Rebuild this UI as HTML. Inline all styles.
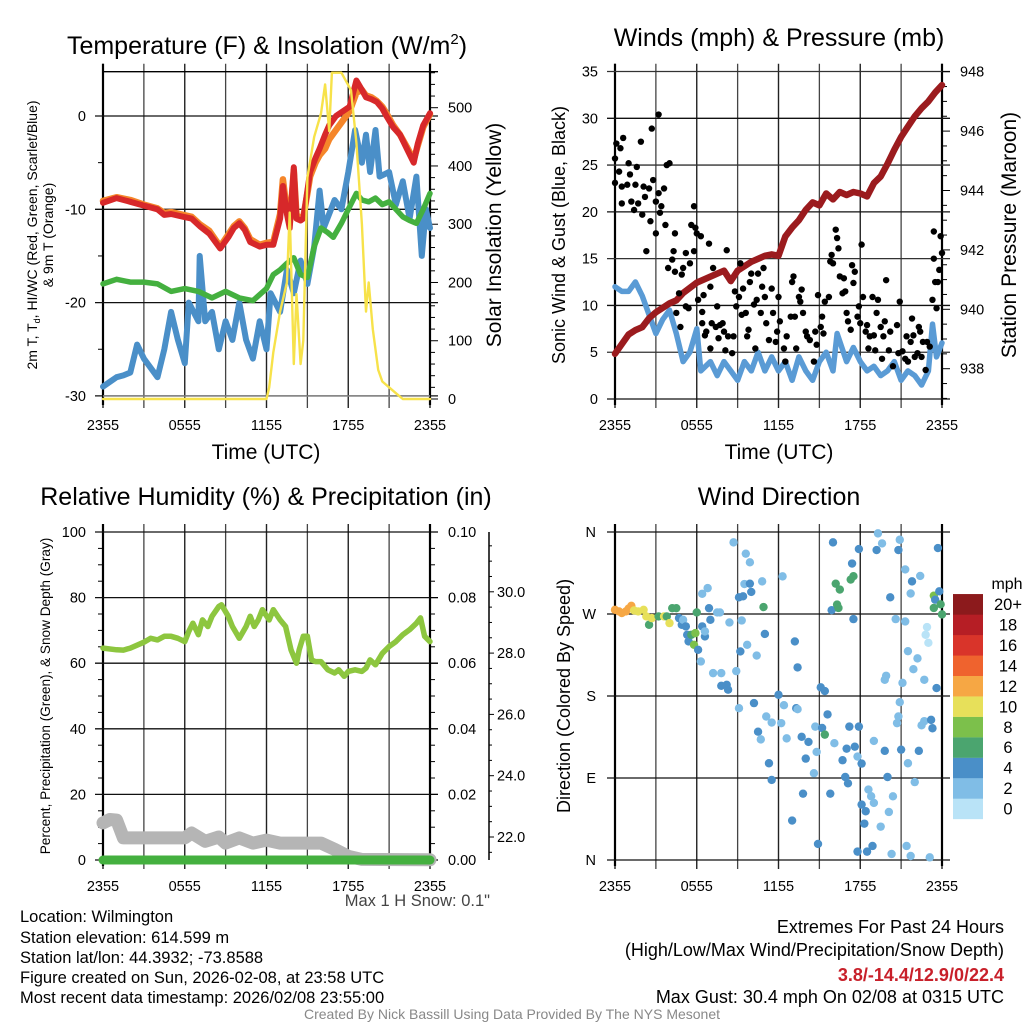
<!DOCTYPE html>
<html><head><meta charset="utf-8"><style>
html,body{margin:0;padding:0;background:#fff}
svg{display:block;font-family:"Liberation Sans",sans-serif}
</style></head><body>
<svg id="fig" width="1024" height="1024" viewBox="0 0 1024 1024" xmlns="http://www.w3.org/2000/svg">
<rect width="1024" height="1024" fill="#fff"/>
<text x="267" y="54" font-size="25" text-anchor="middle">Temperature (F) &amp; Insolation (W/m<tspan font-size="15" dy="-10">2</tspan><tspan dy="10">)</tspan></text>
<text x="779" y="46" font-size="25" text-anchor="middle">Winds (mph) &amp; Pressure (mb)</text>
<text x="266" y="505" font-size="25" text-anchor="middle">Relative Humidity (%) &amp; Precipitation (in)</text>
<text x="779" y="505" font-size="25" text-anchor="middle">Wind Direction</text>
<text x="266" y="459" font-size="21" text-anchor="middle">Time (UTC)</text>
<text x="779" y="459" font-size="21" text-anchor="middle">Time (UTC)</text>
<text transform="translate(37,235) rotate(-90)" font-size="14" text-anchor="middle">2m T, T<tspan font-size="9" dy="3">d</tspan><tspan dy="-3">, HI/WC (Red, Green, Scarlet/Blue)</tspan></text>
<text transform="translate(53,235) rotate(-90)" font-size="14" text-anchor="middle">&amp; 9m T (Orange)</text>
<text transform="translate(501,235) rotate(-90)" font-size="21" text-anchor="middle">Solar Insolation (Yellow)</text>
<text transform="translate(565,235) rotate(-90)" font-size="18" text-anchor="middle">Sonic Wind &amp; Gust (Blue, Black)</text>
<text transform="translate(1016,235) rotate(-90)" font-size="21" text-anchor="middle">Station Pressure (Maroon)</text>
<text transform="translate(50,696) rotate(-90)" font-size="13.6" text-anchor="middle">Percent, Precipitation (Green), &amp; Snow Depth (Gray)</text>
<text transform="translate(570,696) rotate(-90)" font-size="18" text-anchor="middle">Direction (Colored By Speed)</text>
<text x="490" y="906" font-size="16.5" fill="#444" text-anchor="end">Max 1 H Snow: 0.1"</text>
<g font-size="16.5">
<text x="20" y="922">Location: Wilmington</text>
<text x="20" y="943">Station elevation: 614.599 m</text>
<text x="20" y="963">Station lat/lon: 44.3932; -73.8588</text>
<text x="20" y="983">Figure created on Sun, 2026-02-08, at 23:58 UTC</text>
<text x="20" y="1003">Most recent data timestamp: 2026/02/08 23:55:00</text>
</g>
<g font-size="18" text-anchor="end">
<text x="1004" y="933">Extremes For Past 24 Hours</text>
<text x="1004" y="956">(High/Low/Max Wind/Precipitation/Snow Depth)</text>
<text x="1004" y="981" fill="#c8202a" font-weight="bold">3.8/-14.4/12.9/0/22.4</text>
<text x="1004" y="1003">Max Gust: 30.4 mph On 02/08 at 0315 UTC</text>
</g>
<text x="512" y="1019" font-size="14" fill="#888" text-anchor="middle">Created By Nick Bassill Using Data Provided By The NYS Mesonet</text>
<g id="plots"></g>
</svg>
<script>
// ---------- DATA ----------
const xTickLabels = ["2355","0555","1155","1755","2355"];
const tempHours = [0,1,2,3,4,4.5,5,5.9,6.5,7.1,7.8,8.6,9.2,9.6,10,10.4,10.8,11.5,12,12.5,13,13.2,13.5,13.7,14,14.2,14.5,14.7,15,15.2,15.6,15.9,16.3,16.6,17.1,17.6,18.1,18.6,19,19.3,19.7,20.1,20.5,20.8,21.3,21.8,22.3,22.8,23.1,23.5,24];
const tempRed = [-9.3,-8.8,-9.2,-9.6,-10,-10.6,-10.5,-10.8,-11,-11.8,-12.6,-14.2,-13,-12,-11.5,-12.2,-13.5,-14,-13.8,-13.8,-11,-7.5,-10.5,-12,-5.5,-11,-11.2,-11,-8,-6,-4.5,-3.5,-2,-1,0,0.5,1,3.8,2.8,2,1.8,1.5,0.8,0,-1.2,-2,-3.5,-5,-3,-1,0.3];
const tempOrange = [-9.1,-8.7,-9.0,-9.5,-9.9,-10.4,-10.3,-10.6,-10.8,-11.6,-12.3,-14.0,-12.7,-11.8,-11.3,-12.0,-13.2,-13.8,-13.6,-13.5,-10.5,-6.8,-10.2,-11.6,-5.8,-10.6,-11,-10.8,-8.3,-6.5,-5,-4.2,-3.5,-2.5,-1.5,-0.5,0.5,2.5,2.8,2.2,2,1.6,1,0.3,-1,-2,-3.3,-4.7,-3.2,-1.2,0.2];
const dewHours = [0,1,2,3,4,5,6,7,8,9,10,11,12,12.5,13,13.5,14,14.5,15,15.5,16,16.5,16.9,17.5,18,18.6,19,19.5,20,20.5,21,21.5,22,22.5,23,23.5,24];
const dewGreen = [-18,-17.5,-17.8,-17.8,-18,-18.8,-18.5,-18.8,-19.5,-18.8,-19.5,-19.8,-18.5,-17,-16.5,-15.8,-15.2,-17,-17.3,-14,-12,-12.5,-13,-11.5,-10,-8.3,-9,-9.2,-8.8,-9.5,-9.2,-10,-10.8,-11.2,-11.5,-10,-8.3];
const wcHours = [0,0.5,1,1.5,2,2.5,3,3.5,4,4.5,5,5.5,6,6.3,7,7.1,7.5,8,8.5,9,9.5,10,10.5,11,11.5,12,12.3,13,13.5,14,14.5,15,15.5,15.9,16.2,17,17.5,18,18.5,19,19.3,19.6,20,20.3,21,21.5,22,22.5,23,23.4,23.7,24];
const wcBlue = [-29,-28.5,-28,-27.8,-27.5,-24.5,-26,-27,-28,-25,-21,-24,-26.5,-20,-22,-15,-22,-21,-25,-22,-24,-20,-24,-26,-22,-25,-19,-21,-16.5,-19,-15.5,-18,-14,-8,-12,-9,-10,-6,-1.5,-5,-2,-6,-1.5,-6.5,-6,-9.5,-7,-11,-6.5,-15,-10,-12];
const solarHours = [0,12,12.2,12.5,13,13.5,13.7,14,14.2,14.5,14.7,15,15.5,16,16.3,16.6,16.8,17.5,18.2,18.6,19,19.3,19.5,19.8,20.2,20.5,21.5,22,24];
const solarYellow = [0,0,20,80,150,200,320,60,180,60,100,380,450,490,540,460,560,560,530,440,300,150,200,120,50,30,10,0,0];
const windHours = [0,0.5,1,1.5,2,2.5,3,3.5,4,4.5,5,5.5,6,6.3,7,7.5,8,8.5,9,9.5,10,10.5,11,11.5,12,12.5,13,13.5,14,14.5,15,15.5,16,16.3,17,17.5,18,18.5,19,19.5,20,20.5,21,21.5,22,22.5,23,23.3,23.6,24];
const windSonic = [12,11.5,11.5,12.5,11,9,7,8.5,9.5,7,4,5,7.5,3,4,2.5,4,3,2,4,3,5,3,4.5,3,4,2,4.5,3,2,4,5,3,7,4,5.5,4,3,3.5,2.5,3,4,2,3,2.5,1.5,3,8,4.5,6];
const gustHours = [0,0,0.1,0.3,0.4,0.5,0.6,0.5,0.9,1,1.1,1.2,1.4,1.5,1.6,1.7,1.9,2,2.1,2.2,2.3,2.5,2.6,2.7,2.8,3,3,3.2,3.2,3.3,3.4,3.6,3.7,3.8,3.9,4,4.2,4.3,4.4,4.4,4.5,4.7,4.8,4.9,5,5.2,5.2,5.4,5.5,5.6,5.8,5.8,5.9,6,6.1,6.3,6.4,6.4,6.5,6.6,6.7,6.9,7,7,7.1,7.2,7.4,7.5,7.6,7.7,7.9,8,8.1,8.2,8.3,8.6,8.7,8.8,8.9,9.1,9.2,9.3,9.4,9.6,9.7,9.8,9.9,10,10.2,10.3,10.4,10.5,10.7,10.8,10.9,11,11.1,11.3,11.5,11.6,11.8,11.9,12,12.1,12.4,12.5,12.6,12.9,13,13.1,13.2,13.3,13.5,13.6,13.7,13.8,14,14.1,14.3,14.6,14.7,14.8,14.9,15.1,15.2,15.3,15.4,15.7,15.8,15.9,16,16.2,16.3,16.4,16.5,16.7,16.8,16.9,17,17.1,17.3,17.4,17.5,17.6,17.8,17.9,18,18.1,18.2,18.4,18.5,18.6,18.7,18.9,19,19.1,19.2,19.3,19.5,19.6,19.7,19.8,19.9,20.1,20.2,20.4,20.7,20.8,20.9,21.1,21.3,21.4,21.5,21.7,21.8,21.9,22,22.2,22.3,22.4,22.5,22.6,22.8,22.9,23.1,23.3,23.4,23.4,23.5,23.6,23.7,23.8,23.9,24];
const gustVals = [23.1,25.7,27.3,24.3,26.8,22.7,27.9,20.9,22.9,25.2,24,21.1,20.2,22.9,24.8,20.9,27.5,19.7,22.7,21.6,15.8,22.5,19,28.9,23.4,21.1,17.7,30.4,22,19.9,20.6,22.5,18.6,25,14,25.2,14.9,15.8,13.6,17.7,9.2,11.3,7.7,13.3,14,15.6,9.9,9.7,14.5,18.6,15.8,20.6,18.3,17.7,10.6,17.4,8.1,9.3,11.1,6.8,7.2,16.6,5.4,12,8.1,14,7.7,9.9,6.5,7.9,8.1,7.2,5.2,15.9,6.7,4.9,6.7,11.5,9.9,10.9,14.5,9,11.8,9.2,6.7,7.4,12.5,13.4,10.1,5.4,10.6,13.4,9.2,12,14,10.9,8.1,6.3,11.8,9.2,6.1,7.2,10.9,8.3,5.4,4,6.7,8.8,12.5,13.1,8.8,5.4,10.9,10.4,11.7,9.2,7.2,6.7,6.3,4,7.2,5.8,11.1,7.7,8.8,7,10.4,10.9,14.7,15.4,14.5,18.1,17.2,16.1,13.1,11.3,12.9,11.5,9.2,8.3,7.4,14.3,12.4,13.6,8.8,9.9,8.1,16.5,10.9,7.2,7.9,5.4,6.7,10.9,6.8,5.2,9.2,10.6,7.7,4.3,6.7,8.3,12.7,5.2,7.2,3.5,7.9,4.9,10.4,5.1,4.3,6.7,4,6.1,8.6,6.8,4.5,4.9,7.7,7.2,4.5,6.1,3.1,6.1,5.6,10.6,15,17.9,12.5,9.7,12.5,13.8,17.4,15.6];
const presHours = [0,1,1.5,2,2.5,3,4,4.5,5,6,7,8,8.5,9,10,11,11.5,12,12.5,13,13.5,14,14.5,15,15.5,16,16.5,17,17.5,18,18.5,19,19.5,20,20.5,21,21.5,22,22.5,23,23.5,24];
const presVals = [938.5,939.15,939.3,939.4,939.7,939.9,940.2,940.3,940.55,940.9,941.1,941.3,940.95,941.3,941.6,941.8,941.85,941.8,942.45,942.75,943.0,943.35,943.6,943.5,943.9,943.7,943.95,943.85,943.95,943.9,943.8,944.25,944.47,944.9,945.37,945.8,946.15,946.5,946.77,947.0,947.3,947.55];
const rhHours = [0,1,1.5,2,3,3.5,4,4.5,5,5.5,6,6.3,6.6,7,7.3,7.7,8,8.5,8.7,9.2,9.5,10,10.5,10.8,11.1,11.4,11.7,12.2,12.5,13,13.4,13.8,14.2,14.4,14.7,15,15.3,15.6,16,16.5,17,17.3,17.7,18,18.5,19,19.3,19.6,20,20.5,21,21.5,22,22.5,23,23.3,23.6,24];
const rhVals = [64.6,64.1,64,64.6,66.4,67.6,67.1,68.2,68.2,67.6,66.6,69.7,72.2,68.7,73.2,71.2,74.3,77.3,77.8,74.3,71.2,67.6,71.2,74.3,71.2,73.2,76.3,73.2,76.3,73.2,71.2,64.1,60,64.1,68.2,68.2,61,60.5,60.5,58,57,58,56,57.5,58,57.5,58.5,61,59.5,63,65.1,66.6,68.7,70.2,72.2,73.8,68.2,66.6];
const snowHours = [0,0.5,1,1.5,2,6,6.5,7.5,8.5,9,10,11,12,13,15,16,17,18,19,24];
const snowVals = [22.46,22.57,22.55,21.97,21.97,21.97,22.13,21.86,22.0,21.8,21.97,21.8,21.9,21.8,21.8,21.8,21.6,21.37,21.27,21.26];
const precipHours = [0,24];
const precipVals = [0,0];
const speedColors = ["#b9e3f7","#80bde6","#4a8fc8","#4ba56f","#7cc04b","#e7e05a","#f6a744","#ef632e","#d9342a","#b61e25","#8c1a1c"];
const speedLabels = ["0","2","4","6","8","10","12","14","16","18","20+"];
const dirHours = [
0,0.3,0.5,0.8,1,1.2,1.4,1.7,2.1,2.3,
2.5,2.7,3.2,3.6,3.8,4,4.2,4.5,4.7,4.9,
5,5.2,5.3,5.4,5.6,5.8,5.9,6,6.1,6.3,
6.4,6.6,6.6,6.9,7,6.4,6.8,7.2,7.5,7.7,
7.8,7.8,8.2,8.3,8.4,8.7,8.9,9.1,9.1,9.2,
9.3,9.4,9.5,9.6,9.9,9.7,9.9,10,10.2,10.4,
10.5,10.7,10.8,10.9,11,11.1,11.5,11.3,11.5,12,
12.2,12.3,12.4,12.6,13,13.2,13.4,13.3,13.4,13.7,
13.8,14,14.2,14.6,14.7,14.8,14.9,15.1,15.2,15.4,
15.4,15.6,15.8,16,15.9,16.1,16.2,16.3,16.4,16.5,
16.7,16.9,17,17.1,17.2,17.3,17.5,17.4,17.5,17.6,
17.8,17.8,17.9,17.9,18.1,18.1,18.3,18.4,18.5,18.6,
18.8,18.9,19,19,19.2,19.3,19.6,19.5,19.8,19.9,
19.8,20,20.1,20.2,20.3,20.4,20.6,20.7,20.8,20.8,
20.9,20.9,21,21.1,21.3,21.3,21.4,21.5,21.5,21.7,
21.7,21.8,21.9,22,22.2,22.3,22.4,22.5,22.7,22.7,
22.9,22.8,23,23.1,23.2,23.3,23.4,23.5,23.4,23.6,
23.7,23.8,23.9,24];
const dirDeg = [
274.6,272.8,271,272.8,276,279,273.9,272.8,274.6,267.3,
258.2,265.5,267.3,267.3,267.3,260,276.4,276.4,265.5,258.2,
263.6,256.4,247.2,239.9,247.2,236.2,249,271.7,230.7,217.9,
256.4,245.4,250.9,276.4,263.6,292.2,298.4,205.1,271.7,271.7,
205.1,191.2,192.3,186.9,260.7,348.6,207.3,166.6,288.3,228.9,
262.9,289.4,302.9,336.2,326.7,236.2,303.3,294.2,172.2,224.4,
140.8,132.4,305.8,277.6,248.1,157.5,150.9,106.2,87.9,181.3,
150.2,311.3,169.9,133.5,43.3,239.9,211.4,166.6,165.5,135.2,
72.8,111.3,129.6,95.2,146.4,118.6,17.6,189.5,144.9,137.6,
185.4,159.8,72.8,348.6,274.2,128.2,303.3,280.3,276.6,296.8,
109.5,91.1,122.2,84.2,146.4,307.8,311.5,325.4,264.4,124.4,
113.5,9.2,146.4,341.3,105.8,60.8,39.9,53.5,9.2,77.3,
70,15.4,62.6,130.7,340.2,358.5,347.5,36.6,197.8,202.2,
119.8,91.1,52.7,288.3,6.6,69.9,264.4,150.2,340.2,157.5,
173.2,351.5,121.1,194.4,261.8,318.9,15.4,106.2,229.2,4.4,
292.5,305.8,209.4,85.5,221.3,119.8,311.8,147.8,197.8,152.4,
255.6,247.2,238.4,2.9,153.8,144.6,290.1,285.7,276.6,188.7,
342.4,294.9,280.6,269.6];
const dirBin = [
6,6,6,6,6,6,5,5,5,5,
3,5,3,5,3,5,3,3,2,2,
1,2,2,2,3,4,4,3,2,1,
2,2,1,2,2,1,1,1,1,1,
1,2,2,2,1,1,1,1,2,2,
1,2,1,1,1,1,2,2,2,1,
2,1,1,3,2,1,1,2,2,2,
1,1,1,1,2,2,2,2,1,2,
2,2,2,1,1,1,2,2,2,3,
2,2,2,2,2,1,3,3,3,3,
2,2,2,2,2,3,3,2,2,2,
1,2,2,2,2,2,2,2,2,1,
1,2,1,1,2,1,1,1,1,1,
2,2,1,2,1,1,1,1,2,1,
1,1,2,1,1,1,1,1,1,1,
1,2,1,1,1,2,1,1,1,1,
0,0,0,1,2,2,4,2,3,2,
2,2,3,3];

// ---------- DRAW ----------
const NS = "http://www.w3.org/2000/svg";
const root = document.getElementById("plots");
const FS = 14.5;
function mk(tag, attrs, parent){ const e=document.createElementNS(NS,tag); for(const k in attrs) e.setAttribute(k,attrs[k]); (parent||root).appendChild(e); return e; }
function txt(x,y,s,size,anchor){
  const t=mk("text",{x:x,y:y,"font-size":size,"text-anchor":anchor});
  t.textContent=s;
  return t;
}
function pathFrom(hs,vs,xf,yf){ let d=""; const n=Math.min(hs.length,vs.length); for(let i=0;i<n;i++){ d+=(i?"L":"M")+xf(hs[i]).toFixed(1)+","+yf(vs[i]).toFixed(1);} return d; }
function series(hs,vs,xf,yf,color,w,name){
  const p=mk("path",{d:pathFrom(hs,vs,xf,yf),fill:"none",stroke:color,"stroke-width":w,"stroke-linejoin":"round","stroke-linecap":"round"});
  
  
  return p;
}
function ln(x1,y1,x2,y2,c,w){ return mk("line",{x1:x1,y1:y1,x2:x2,y2:y2,stroke:c,"stroke-width":w}); }

const TOP=[71.7,399], BOT=[532,860];
function frame(x0,yr,name){
  const x1=x0+327;
  for(let i=0;i<=8;i++){ const x=x0+i*327/8; const g=ln(x,yr[0]-8,x,yr[1]+9,i%2?"#444":"#222",i%2?1.3:1.4);
    
     }
  const a=ln(x0,yr[0]-8,x0,yr[1]+6,"#000",2.2);
  
  
  const b=ln(x1,yr[0]-8,x1,yr[1]+6,"#000",2.2);
  
  
  for(let i=0;i<5;i++){ const t=txt(x0+i*327/4, yr[1]+31,xTickLabels[i],FS,"middle");
    
     }
}
function hgrid(x0,y,c,name){ const g=ln(x0-8,y,x0+335,y,c,1.3);
  
   }

// ===== Panel 1: Temperature =====
const x1=h=>103+h*327/24, yT=v=>116-v*9.33, yS=w=>399-w*0.5826;
frame(103,TOP,"temp");
[0,-10,-20,-30].forEach(v=>{ hgrid(103,yT(v),"#111","temp-hgrid"); const t=txt(86,yT(v)+5,String(v),FS,"end");
  
   });
[-5,-15,-25].forEach(v=>ln(98,yT(v),103,yT(v),"#000",1));
ln(103,71.7,438,71.7,"#000",1.3);
for(let w=0;w<=560;w+=20){ ln(430,yS(w),w%100?435:438,yS(w),"#000",1); }
for(let w=0;w<=500;w+=100){ const t=txt(448,yS(w)+5,String(w),FS,"start");
  
   }
ln(103,396,430,396,"#888",1.5);
series(wcHours,wcBlue,x1,yT,"#4a8fc8",6,"windchill-series");
series(dewHours,dewGreen,x1,yT,"#44b03f",5.5,"dewpoint-series");
series(tempHours,tempOrange,x1,yT,"#f5862a",6.5,"temp-9m-series");
series(tempHours,tempRed,x1,yT,"#d7282a",6,"temp-2m-series");
series(solarHours,solarYellow,x1,yS,"#f7e24a",2.4,"solar-series");

// ===== Panel 2: Winds =====
const x2=h=>615+h*327/24, yW=v=>399-v*9.357, yP=p=>71.7+(948-p)*29.7;
frame(615,TOP,"wind");
for(let v=0;v<=35;v+=5){ hgrid(615,yW(v),v%10?"#333":"#111","wind-hgrid"); const t=txt(598,yW(v)+5,String(v),FS,"end");
  
   }
for(let p=937;p<=948;p+=0.5){ ln(942,yP(p),p%2===0?950:947,yP(p),"#000",1); }
for(let p=938;p<=948;p+=2){ const t=txt(960,yP(p)+5,String(p),FS,"start");
  
   }
series(windHours,windSonic,x2,yW,"#5a9bd5",5.5,"sonic-wind-series");
series(presHours,presVals,x2,yP,"#9b1b1e",6.5,"pressure-series");
for(let i=0;i<Math.min(gustHours.length,gustVals.length);i++){ const c=mk("circle",{cx:x2(gustHours[i]),cy:yW(gustVals[i]),r:3.2,fill:"#000"});
  
   }

// ===== Panel 3: Humidity =====
const yR=v=>860-v*3.28, ySd=v=>837-(v-22)*30.65;
frame(103,BOT,"humidity");
for(let v=0;v<=100;v+=20){ hgrid(103,yR(v),"#111","humidity-hgrid"); const t=txt(86,yR(v)+5,String(v),FS,"end");
  
  
  const t2=txt(448,yR(v)+5,(v/1000).toFixed(2),FS,"start");
  
   }
for(let v=0;v<=100;v+=5){ ln(430,yR(v),v%20?435:438,yR(v),"#000",1); if(v%20) ln(98,yR(v),103,yR(v),"#000",1); }
const sa=ln(489,532,489,860,"#000",1.5);


for(let v=21.5;v<=31.9;v+=0.5){ ln(489,ySd(v),Math.abs(v%2)<0.01?494:492,ySd(v),"#000",1); }
for(let v=22;v<=30;v+=2){ const t=txt(497,ySd(v)+5,v.toFixed(1),FS,"start");
  
   }
series(snowHours,snowVals,x1,ySd,"#b5b5b5",13,"snow-depth-series");
series(rhHours,rhVals,x1,yR,"#8dc63f",5.5,"humidity-series");
series(precipHours,precipVals,x1,v=>yR(v*1000),"#44b03f",9,"precip-series");

// ===== Panel 4: Wind direction =====
const yD=d=>860-d*328/360;
frame(615,BOT,"direction");
["N","E","S","W","N"].forEach((s,i)=>{ hgrid(615,yD(i*90),"#111","direction-hgrid"); const t=txt(596,yD(i*90)+5,s,FS,"end");
  
   });
const nDir=Math.min(dirHours.length,dirDeg.length,dirBin.length);
for(let i=0;i<nDir;i++){ const c=mk("circle",{cx:x2(dirHours[i]),cy:yD(dirDeg[i]),r:4.2,fill:speedColors[dirBin[i]]});
  
   }
const lt=txt(1007,589,"mph",16,"middle");


for(let i=0;i<speedColors.length;i++){ const y=819-(i+1)*20.45;
  const r=mk("rect",{x:953,y:y,width:30,height:20.6,fill:speedColors[i]});
  
  
  const t=txt(1008,y+16,speedLabels[i],16.5,"middle");
  
   }
</script>
</body></html>
